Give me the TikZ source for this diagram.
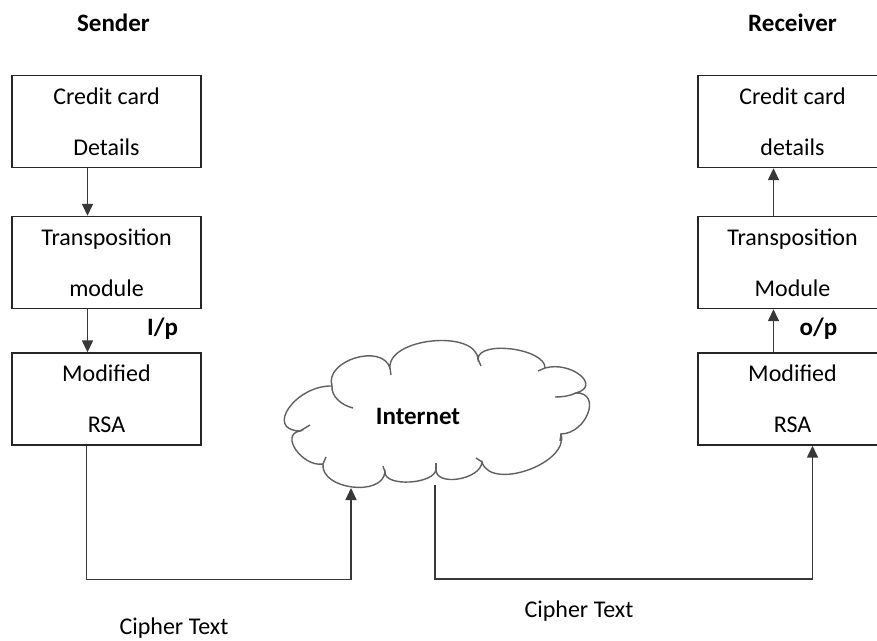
\documentclass[tikz,border=0pt]{standalone}
\usepackage{fontspec}
\setmainfont{Carlito}
\usetikzlibrary{arrows.meta}

\begin{document}
\begin{tikzpicture}[x=1pt,y=-1pt,
  box/.style={draw=black!85, line width=1.4pt, minimum width=189pt, minimum height=92pt,
    inner sep=0pt, align=center, font=\fontsize{24}{51}\selectfont},
  lbl/.style={inner sep=0pt, font=\fontsize{24}{28}\selectfont},
  bold/.style={inner sep=0pt, font=\fontsize{25}{28}\selectfont\bfseries},
  conn/.style={draw=black!78, line width=1.5pt},
  arr/.style={conn, -{Triangle[length=12pt,width=11pt]}},
  cloudline/.style={draw=black!62, line width=1.4pt}
]
\clip (0,0) rectangle (877,640);
\fill[white] (0,0) rectangle (877,640);

% headings
\node[bold] (snd) at (113.5,23) {Sender};
\node[bold] (rcv) at (792.5,23) {Receiver};

% sender column
\node[box] (l1) at (106.5,121.5) {Credit card\\Details};
\node[box] (l2) at (106.5,262.5) {Transposition\\module};
\node[box] (l3) at (106.5,399)   {Modified\\RSA};
\node[bold] (inp) at (162.5,329) {I/p};

% receiver column
\node[box] (r1) at (792.5,121.5) {Credit card\\details};
\node[box] (r2) at (792.5,262.5) {Transposition\\Module};
\node[box] (r3) at (792.5,399)   {Modified\\RSA};
\node[bold] (outp) at (818.5,329) {o/p};

% internet cloud
\path[cloudline, fill=white]
  (332,386) .. controls (296,385) and (264,430) .. (300,431)
            .. controls (279.3,434.3) and (302.3,467.3) .. (323,464)
            .. controls (320.3,489.3) and (382.3,497.3) .. (385,472)
            .. controls (384.3,487.3) and (435.3,484.3) .. (436,469)
            .. controls (434.7,487) and (480.7,480) .. (482,462)
            .. controls (490.7,491.3) and (569.7,463.3) .. (561,434)
            .. controls (587,433.3) and (602,392.3) .. (576,393)
            .. controls (602,385.7) and (571,360.7) .. (545,368)
            .. controls (545.7,348.7) and (478.7,339.7) .. (478,359)
            .. controls (475.3,329) and (387.3,338) .. (390,368)
            .. controls (382,342.7) and (324,360.7) .. (332,386) -- cycle;
% inner puff edges
\draw[cloudline] (332,386) .. controls (331,396) and (341,405) .. (353,408);
\draw[cloudline] (390,368) -- (391,375);
\draw[cloudline] (478,359) -- (481,366);
\draw[cloudline] (545,368) -- (538,371);
\draw[cloudline] (576,393) .. controls (570,396) and (562,397) .. (555,397);
\draw[cloudline] (561,434) -- (560,441);
\draw[cloudline] (482,462) -- (476,458);
\draw[cloudline] (436,469) -- (436,463);
\draw[cloudline] (385,472) -- (383,466);
\draw[cloudline] (323,464) -- (326,457);
\draw[cloudline] (300,431) -- (310,425);
\node[bold] (net) at (418,416) {Internet};

\coordinate (netin)  at (351,488);
\coordinate (netout) at (435,485);

% arrows between boxes
\draw[arr] ([xshift=-19pt]l1.south) -- ([xshift=-19pt]l2.north);
\draw[arr] ([xshift=-19pt]l2.south) -- ([xshift=-19pt]l3.north);
\draw[arr] ([xshift=-19pt]r2.north) -- ([xshift=-19pt]r1.south);
\draw[arr] ([xshift=-19pt]r3.north) -- ([xshift=-19pt]r2.south);

% cipher text paths
\draw[arr] ([xshift=-20pt]l3.south) -- ++(0,134) -| (netin);
\draw[arr] (netout) -- ++(0,94) -| ([xshift=20pt]r3.south);

\node[lbl] (ct1) at (174,628) {Cipher Text};
\node[lbl] (ct2) at (579,611) {Cipher Text};
\end{tikzpicture}
\end{document}
